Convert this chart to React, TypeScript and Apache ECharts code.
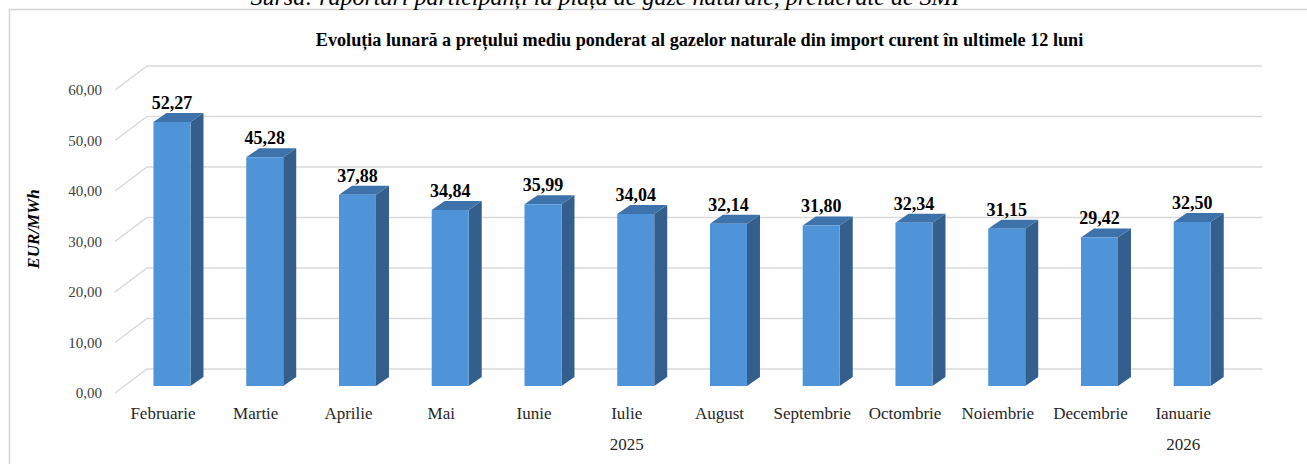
import React, { useEffect, useRef } from "react";
import * as echarts from "echarts";

const categories = [
  "Februarie", "Martie", "Aprilie", "Mai", "Iunie", "Iulie",
  "August", "Septembrie", "Octombrie", "Noiembrie", "Decembrie", "Ianuarie",
];
const prices = [52.27, 45.28, 37.88, 34.84, 35.99, 34.04, 32.14, 31.8, 32.34, 31.15, 29.42, 32.5];
const yearLabels = ["2025", "2026"];
const yearFirstIndex = [0, 11];
const yearLastIndex = [10, 11];
const yMin = 0;
const yMax = 60;
const yStep = 10;

const titleText =
  "Evoluția lunară a prețului mediu ponderat al gazelor naturale din import curent în ultimele 12 luni";
const sourceText =
  "Sursa: raportări participanți la piața de gaze naturale, prelucrate de SMI";
const yName = "EUR/MWh";

const SERIF = "'Liberation Serif', 'Times New Roman', serif";
const fmt = (v: number) => v.toFixed(2).replace(".", ",");

export default function App() {
  const ref = useRef<HTMLDivElement>(null);
  useEffect(() => {
    if (!ref.current) return;
    const chart = echarts.init(ref.current, undefined, { renderer: "svg" });

    const yearAxisData = categories.map((_, i) => {
      for (let g = 0; g < yearLabels.length; g++) {
        const c = Math.floor((yearFirstIndex[g] + yearLastIndex[g]) / 2);
        if (c === i) return yearLabels[g];
      }
      return "";
    });
    const ticks: number[] = [];
    for (let v = yMin; v <= yMax; v += yStep) ticks.push(v);

    const DX = 32, DY = -24; // back wall offset
    const BDX = 13, BDY = -9; // bar depth
    const BAR_SHIFT_X = 9, BAR_SHIFT_Y = -7, HALF_W = 18.5;

    chart.setOption({
      animation: false,
      grid: { left: 116.6, right: 77.4, top: 90, bottom: 71, containLabel: false },
      xAxis: [
        {
          type: "category",
          data: categories,
          axisLine: { show: false },
          axisTick: { show: false },
          axisLabel: { interval: 0, fontFamily: SERIF, fontSize: 17, color: "#262626", margin: 12 },
        },
        {
          type: "category",
          data: yearAxisData,
          position: "bottom",
          offset: 31,
          axisLine: { show: false },
          axisTick: { show: false },
          axisLabel: { interval: 0, fontFamily: SERIF, fontSize: 17, color: "#262626", margin: 12 },
        },
      ],
      yAxis: {
        type: "value",
        min: yMin,
        max: yMax,
        interval: yStep,
        axisLine: { show: false },
        axisTick: { show: false },
        splitLine: { show: false },
        axisLabel: {
          formatter: (v: number) => fmt(v),
          fontFamily: SERIF,
          fontSize: 15,
          color: "#404040",
          margin: 14.6,
        },
      },
      graphic: [
        {
          type: "rect",
          shape: { x: 9.5, y: 9.5, width: 1320, height: 480 },
          style: { fill: "none", stroke: "#d4d4d4", lineWidth: 1.5 },
          silent: true,
        },
        {
          type: "text",
          x: 605,
          y: -3,
          style: {
            text: sourceText,
            font: `italic 24px ${SERIF}`,
            fill: "#000",
            align: "center",
            verticalAlign: "middle",
          },
        },
        {
          type: "text",
          x: 699.5,
          y: 40,
          style: {
            text: titleText,
            font: `bold 18.2px ${SERIF}`,
            fill: "#000",
            align: "center",
            verticalAlign: "middle",
          },
        },
        {
          type: "text",
          x: 33.5,
          y: 229,
          rotation: Math.PI / 2,
          style: {
            text: yName,
            font: `italic bold 17px ${SERIF}`,
            fill: "#000",
            align: "center",
            verticalAlign: "middle",
          },
        },
      ],
      series: [
        {
          type: "custom",
          clip: false,
          z: 1,
          silent: true,
          data: ticks.map((v) => [0, v]),
          renderItem: (params: any, api: any) => {
            const cs = params.coordSys;
            const p = api.coord([0, api.value(1)]);
            const x0 = cs.x - 1.6;
            const y0 = p[1];
            return {
              type: "polyline",
              shape: {
                points: [
                  [x0, y0],
                  [x0 + DX, y0 + DY],
                  [cs.x + cs.width + DX + 0.4, y0 + DY],
                ],
              },
              style: { stroke: "#d9d9d9", lineWidth: 1.5, fill: "none" },
            };
          },
        },
        {
          type: "custom",
          clip: false,
          z: 2,
          silent: true,
          data: prices.map((v, i) => [i, v]),
          renderItem: (params: any, api: any) => {
            const i = api.value(0);
            const v = api.value(1);
            const top = api.coord([i, v]);
            const base = api.coord([i, 0]);
            const cx = top[0] + BAR_SHIFT_X;
            const ty = top[1] + BAR_SHIFT_Y;
            const by = base[1] + BAR_SHIFT_Y;
            const l = cx - HALF_W;
            const r = cx + HALF_W;
            return {
              type: "group",
              children: [
                {
                  type: "polygon",
                  shape: { points: [[r, ty], [r + BDX, ty + BDY], [r + BDX, by + BDY], [r, by]] },
                  style: { fill: "#345f8c" },
                },
                {
                  type: "polygon",
                  shape: { points: [[l, ty], [l + BDX, ty + BDY], [r + BDX, ty + BDY], [r, ty]] },
                  style: { fill: "#3d72aa" },
                },
                {
                  type: "rect",
                  shape: { x: l, y: ty, width: r - l, height: by - ty },
                  style: { fill: "#4f94d8" },
                },
                {
                  type: "text",
                  x: cx,
                  y: ty - 19,
                  style: {
                    text: fmt(v),
                    font: `bold 18px ${SERIF}`,
                    fill: "#000",
                    align: "center",
                    verticalAlign: "middle",
                  },
                },
              ],
            };
          },
        },
      ],
    });
    return () => chart.dispose();
  }, []);
  return (
    <div
      ref={ref}
      style={{ position: "fixed", left: 0, top: 0, width: 1307, height: 464, background: "#fff" }}
    />
  );
}
